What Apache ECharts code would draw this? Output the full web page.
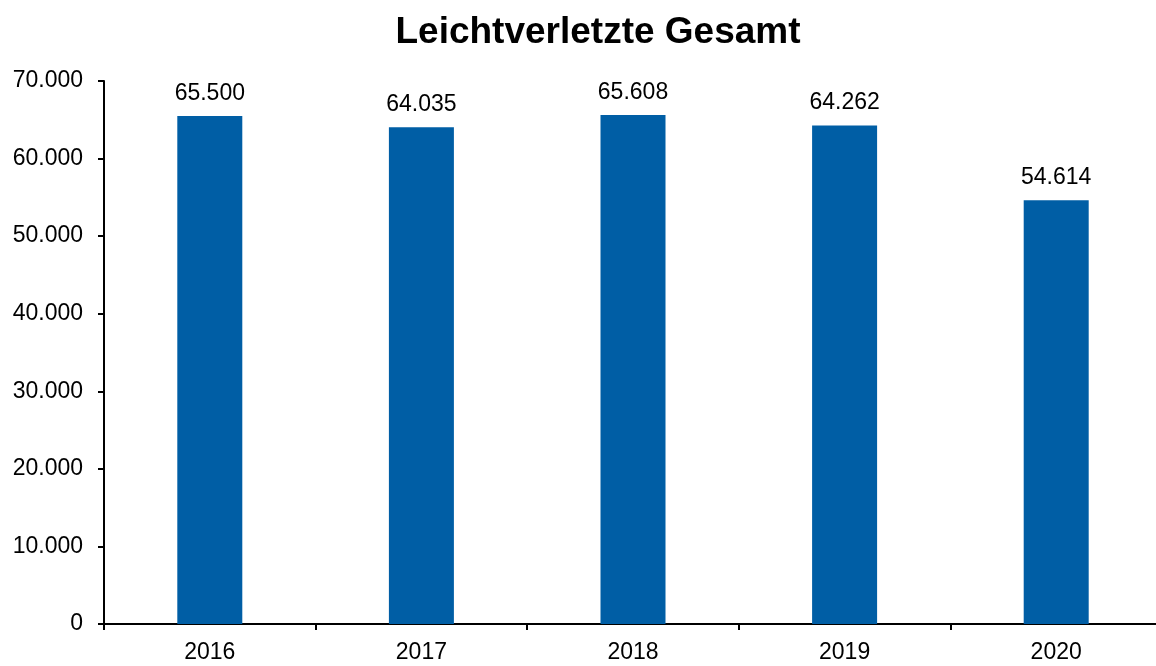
<!DOCTYPE html>
<html><head><meta charset="utf-8">
<script src="https://cdn.jsdelivr.net/npm/echarts@6/dist/echarts.min.js"></script>
<style>html,body{margin:0;padding:0;background:#fff;overflow:hidden}#c{width:1170px;height:666px}</style>
</head><body><div id="c"></div>
<script>
const categories = ['2016','2017','2018','2019','2020'];
const values = [65500, 64035, 65608, 64262, 54614];
const titleText = 'Leichtverletzte Gesamt';
const fmt = v => String(v).replace(/\B(?=(\d{3})+(?!\d))/g, '.');
const chart = echarts.init(document.getElementById('c'));
chart.setOption({
  animation: false,
  title: { text: titleText, left: 593, textAlign: 'center', top: 9,
    textStyle: { fontFamily: 'Liberation Sans', fontWeight: 'bold', fontSize: 37, color: '#000' } },
  grid: { left: 104, top: 81, width: 1058, height: 543, containLabel: false },
  xAxis: { type: 'category', data: categories,
    axisLine: { lineStyle: { color: '#000', width: 2 } },
    axisTick: { show: true, length: 6, lineStyle: { color: '#000', width: 2 } },
    axisLabel: { color: '#000', fontFamily: 'Liberation Sans', fontSize: 23, margin: 17 } },
  yAxis: { type: 'value', min: 0, max: 70000, interval: 10000,
    splitLine: { show: false },
    axisLine: { show: true, lineStyle: { color: '#000', width: 2 } },
    axisTick: { show: true, length: 6, lineStyle: { color: '#000', width: 2 } },
    axisLabel: { color: '#000', fontFamily: 'Liberation Sans', fontSize: 23, margin: 21, formatter: v => fmt(v) } },
  series: [{ type: 'bar', data: values, barWidth: 65,
    itemStyle: { color: '#005EA5' },
    label: { show: true, position: 'top', distance: 11, color: '#000', fontFamily: 'Liberation Sans', fontSize: 23, formatter: p => fmt(p.value) } }]
});
</script></body></html>
